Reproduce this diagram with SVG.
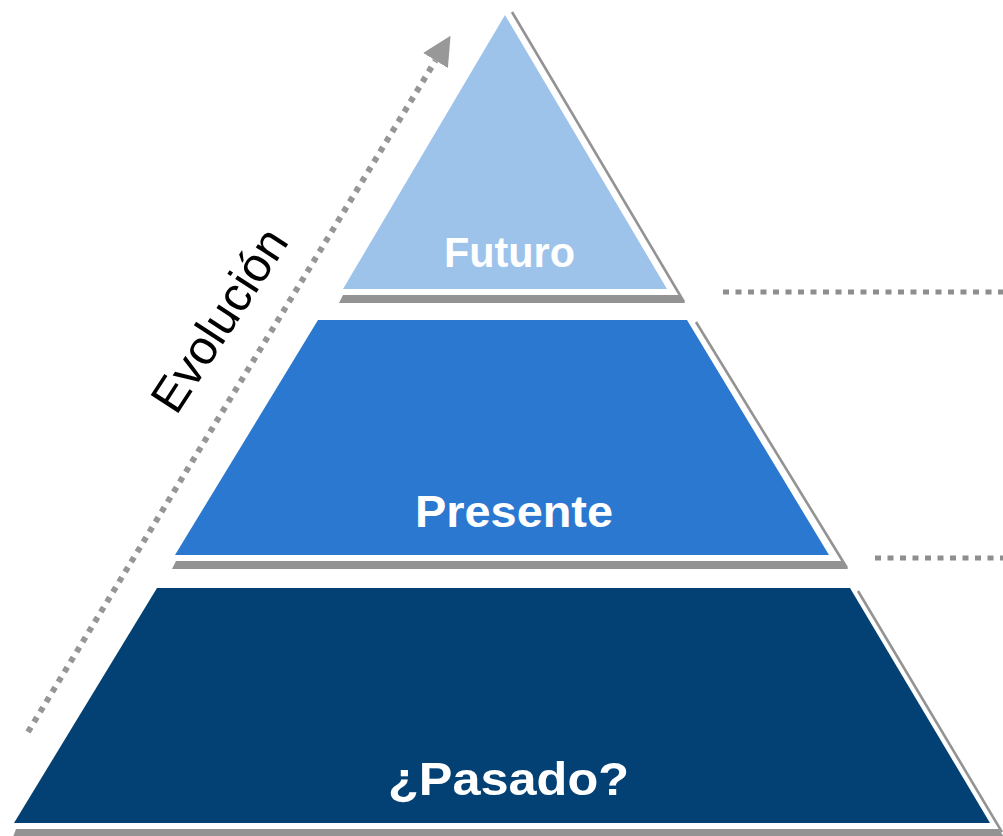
<svg xmlns="http://www.w3.org/2000/svg" width="1003" height="836" viewBox="0 0 1003 836">
  <defs>
    <marker id="ah" markerUnits="userSpaceOnUse" markerWidth="30" markerHeight="30" viewBox="0 -15 30 30" refX="0" refY="0" orient="auto">
      <path d="M0,-14.5 L29,0 L0,14.5 Z" fill="#989898"/>
    </marker>
  </defs>
  <style>
    .shadow { fill: #939393; }
    .sline { stroke: #939393; stroke-width: 2.6; fill: none; }
    .lbl { font-family: "Liberation Sans", Arial, sans-serif; font-weight: bold; fill: #ffffff; text-anchor: middle; }
    .dots { stroke: #8e8e8e; stroke-width: 5; fill: none; stroke-dasharray: 6 6.5; }
    .adots { stroke: #969696; stroke-width: 6; fill: none; stroke-dasharray: 5.5 6.2; }
  </style>
  <rect width="1003" height="836" fill="#ffffff"/>

  <g id="futuro">
    <polygon class="shadow" points="343,295 680,295 685,303 339,303"/>
    <line class="sline" x1="512" y1="12" x2="684" y2="302"/>
    <polygon fill="#9DC3EB" points="505,15 667,289 343,289"/>
    <text class="lbl" x="509.5" y="267" font-size="42" textLength="131" lengthAdjust="spacingAndGlyphs">Futuro</text>
  </g>

  <g id="presente">
    <polygon class="shadow" points="176,561 843,561 848,569 172,569"/>
    <line class="sline" x1="696" y1="322" x2="847" y2="568"/>
    <polygon fill="#2A78D0" points="318,320 687,320 829,555 175,555"/>
    <text class="lbl" x="514" y="527" font-size="45" textLength="198" lengthAdjust="spacingAndGlyphs">Presente</text>
  </g>

  <g id="pasado">
    <polygon class="shadow" points="16,829 999,829 1004,837 13,837"/>
    <line class="sline" x1="858" y1="591" x2="1002" y2="832"/>
    <polygon fill="#034073" points="157,588 850,588 990,823 14,823"/>
    <text class="lbl" x="508.5" y="795" font-size="46" textLength="241" lengthAdjust="spacingAndGlyphs">¿Pasado?</text>
  </g>

  <g id="evolucion-label">
    <text x="0" y="0" transform="translate(233,329) rotate(-57)" font-family="'Liberation Sans', Arial, sans-serif" font-size="48" fill="#000000" text-anchor="middle">Evolución</text>
  </g>

  <g id="connectors">
    <line class="adots" x1="28" y1="732" x2="435.5" y2="60.5" marker-end="url(#ah)"/>
    <line class="dots" x1="723" y1="292" x2="1003" y2="292"/>
    <line class="dots" x1="875" y1="558" x2="1003" y2="558"/>
  </g>
</svg>
